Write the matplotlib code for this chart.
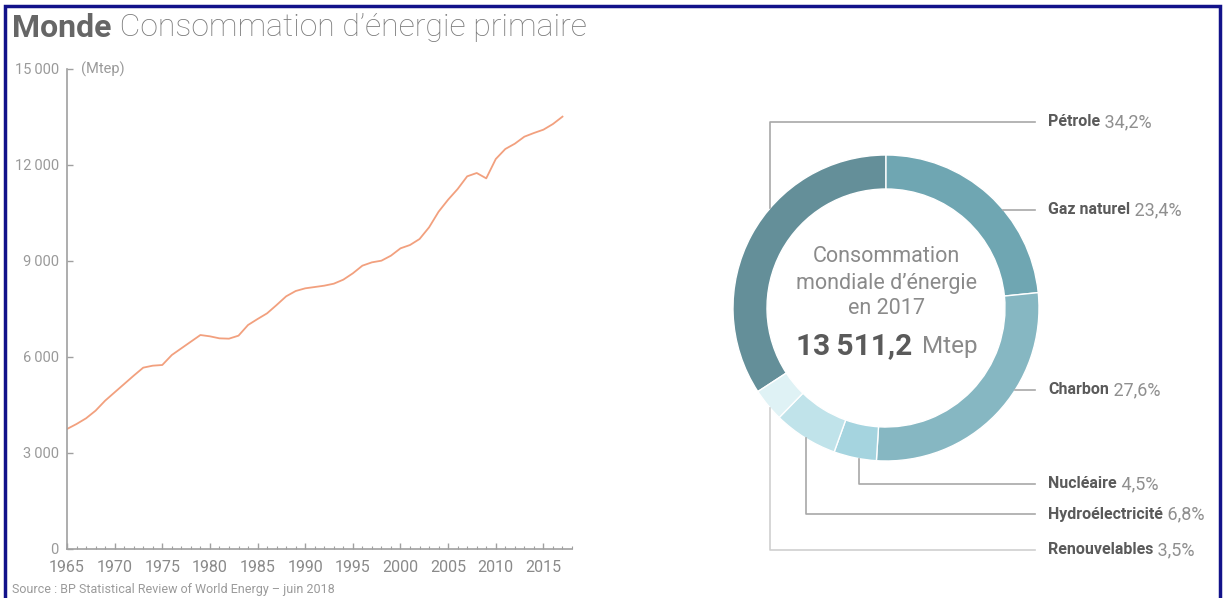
import numpy as np
import matplotlib
matplotlib.use("Agg")
import matplotlib.pyplot as plt
from matplotlib.ticker import MultipleLocator, FuncFormatter
from matplotlib.patches import Rectangle

plt.rcParams['font.family'] = ['Roboto', 'DejaVu Sans']

# World primary energy consumption (Mtep)
years = list(range(1965, 2018))
conso = [3750, 3906, 4084, 4323, 4635, 4896, 5156, 5417, 5667, 5729,
         5750, 6062, 6271, 6479, 6687, 6646, 6583, 6573, 6667, 7000,
         7187, 7365, 7625, 7896, 8062, 8146, 8187, 8229, 8291, 8417,
         8615, 8854, 8958, 9010, 9167, 9396, 9500, 9687, 10052, 10541,
         10917, 11250, 11646, 11750, 11583, 12187, 12500, 12666, 12885, 13000,
         13104, 13281, 13511]

# 2017 mix (%)
sources = ['Pétrole', 'Gaz naturel', 'Charbon', 'Nucléaire', 'Hydroélectricité', 'Renouvelables']
shares = [34.2, 23.4, 27.6, 4.5, 6.8, 3.5]
colors = ['#648f99', '#6fa6b2', '#86b7c2', '#a5d4df', '#c0e3ea', '#dff2f5']
total = '13\u2009511,2'

W, H = 1223, 598
fig = plt.figure(figsize=(W / 100, H / 100), dpi=100)

# line chart
ax = fig.add_axes([67 / W, 49 / H, 505 / W, 480 / H])
ax.plot(years, conso, color='#f2a07e', lw=1.3)
ax.set_xlim(1965, 2018)
ax.set_ylim(0, 15000)
for s in ['top', 'right']:
    ax.spines[s].set_visible(False)
for s in ['left', 'bottom']:
    ax.spines[s].set_color('#a0a0a0')
    ax.spines[s].set_linewidth(1.2)
ax.xaxis.set_major_locator(MultipleLocator(5))
ax.xaxis.set_minor_locator(MultipleLocator(1))
ax.yaxis.set_major_locator(MultipleLocator(3000))
ax.yaxis.set_major_formatter(FuncFormatter(lambda v, p: f"{int(v):,}".replace(',', '\u2009')))
ax.tick_params(axis='x', which='major', direction='in', length=4, width=1, color='#a0a0a0',
               labelsize=11.5, labelcolor='#8a8a8a', pad=8)
ax.tick_params(axis='x', which='minor', direction='in', length=2, width=0.8, color='#a0a0a0')
ax.tick_params(axis='y', direction='in', length=4, width=1, color='#a0a0a0',
               labelsize=10.5, labelcolor='#9a9a9a', pad=6)
ax.text(1966.5, 15000, '(Mtep)', fontsize=10.5, color='#9a9a9a', va='center', ha='left')

# donut chart, axes units = pixels around the centre
cx, cy, R = 886, 308, 153
dax = fig.add_axes([(cx - 160) / W, (H - cy - 160) / H, 320 / W, 320 / H])
start = 90 + shares[0] / sum(shares) * 360
dax.pie(shares, colors=colors, radius=R, startangle=start, counterclock=False,
        wedgeprops=dict(width=34, edgecolor='white', linewidth=1))
dax.set_xlim(-160, 160)
dax.set_ylim(-160, 160)
dax.set_aspect('equal')
dax.axis('off')

dax.text(0, 51, 'Consommation', ha='center', va='center', fontsize=15.5, color='#8a8a8a')
dax.text(0, 25, 'mondiale d\u2019énergie', ha='center', va='center', fontsize=15.5, color='#8a8a8a')
dax.text(0, 0, 'en 2017', ha='center', va='center', fontsize=15.5, color='#8a8a8a')
dax.text(26, -38, total, ha='right', va='center', fontsize=21.5, fontweight='bold', color='#5a5a5a')
dax.text(36, -38, 'Mtep', ha='left', va='center', fontsize=17.5, color='#8a8a8a')

# leader lines and labels
lab_y = [186, 98, -82, -176, -206, -242]
elbow_x = [-116, None, None, -27, -80, -116]
lc = '#a8a8a8'
for name, val, ly, ex in zip(sources, shares, lab_y, elbow_x):
    c = '#cfcfcf' if name == 'Renouvelables' else lc
    if ex is None:
        x0 = np.sqrt(R ** 2 - ly ** 2)
        dax.plot([x0, 149], [ly, ly], color=c, lw=1.2, clip_on=False)
    else:
        yedge = np.sqrt(R ** 2 - ex ** 2) * np.sign(ly)
        dax.plot([ex, ex, 149], [yedge, ly, ly], color=c, lw=1.2, clip_on=False)
    t = dax.text(162, ly, name, ha='left', va='center', fontsize=11.5, fontweight='bold',
                 color='#5a5a5a', clip_on=False)
    dax.annotate(' ' + f"{val:.1f}".replace('.', ',') + '%', xycoords=t, xy=(1, 0.5),
                 ha='left', va='center', fontsize=13, color='#8f8f8f', annotation_clip=False)

# title and source
tt = fig.text(12 / W, 1 - 28 / H, 'Monde', fontsize=23, fontweight='bold', color='#666666',
              va='center', ha='left')
ax.annotate(' Consommation d\u2019énergie primaire', xycoords=tt, xy=(1, 0.5), ha='left',
            va='center', fontsize=23, fontweight='light', color='#7a7a7a', annotation_clip=False)
fig.text(12 / W, 1 - 590 / H, 'Source : BP Statistical Review of World Energy \u2013 juin 2018',
         fontsize=9, color='#9a9a9a', va='center', ha='left')

# frame
fig.patches.append(Rectangle((5 / W, -0.05), 1215 / W, 1 - 6 / H + 0.05, transform=fig.transFigure,
                             fill=False, edgecolor='#12128a', linewidth=2.5))

fig.savefig('out.png', dpi=100)
